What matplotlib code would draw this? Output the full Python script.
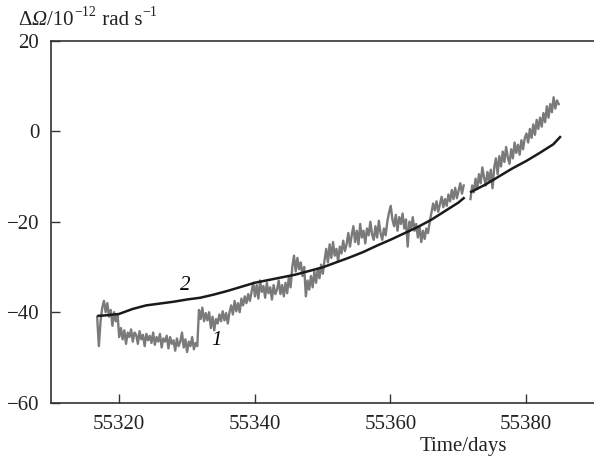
import numpy as np
import matplotlib
matplotlib.use("Agg")
import matplotlib.pyplot as plt

plt.rcParams["font.family"] = ["Liberation Serif", "DejaVu Serif"]

# curve 1 (measured, grey), sampled every 0.25 day, two pieces
t1a_start = 55316.8
y1a = [-41, -47.5, -42,
       -39, -37.5, -40, -38,
       -41, -39.5, -43, -40, -42, -40.5,
       -45.5, -43.5, -46, -44, -47, -44.5, -45.5, -43.8, -46.5, -44.5,
       -45, -47, -44.2, -46, -45, -47.5, -44.8, -46.2, -45.2, -46.8,
       -44.5, -47.2, -45.5, -46.5, -44.8, -47.8, -45.8, -46.5, -45.2, -48,
       -45.5, -47, -46.2, -48.5, -45.8, -47.5, -46.5, -44.5, -47.8, -46,
       -48.8, -46.5, -47.5, -45.5, -48.2, -46.8, -47.5,
       -39.5, -41.5, -39, -42, -40.2, -41.8, -40, -43.5, -41, -44,
       -41.5, -42.5, -40.5, -42, -39.8, -41.8, -40.2, -42.5, -40,
       -38.5, -40.5, -37.5, -39.8, -38, -40, -37, -38.5, -36.5, -38, -36, -37.5, -35.5,
       -33.5, -36.5, -34, -37, -33, -35.5, -34.2, -36.8, -33.5, -35.8, -34.5, -37.2, -34, -36,
       -35, -33, -36, -34, -36.5, -33.5, -35.8, -32, -34.5, -30,
       -27.5, -31, -28, -30.5, -29, -32, -30, -36.5,
       -33, -35, -32, -34.5, -31, -33.5, -30.5, -32.5, -29.5, -31.5,
       -28.5, -26, -29, -25, -28, -24.5, -27.5, -26, -28.8, -25.5, -27, -24.2, -26.5, -25,
       -22.5, -25.5, -23, -21, -24.5, -22, -25, -20.5, -23.5, -22, -24.8, -21.5,
       -23, -20, -22.8, -24, -21, -23.5, -19.8, -22.5, -24, -21.5, -23,
       -20, -18, -16.5, -19.5, -21, -18.5, -22, -19, -20.5, -18.2, -21.5, -19.5, -25.5, -20, -21.5, -19,
       -22, -20.5, -23.5, -21, -24.5, -22, -23.8, -21.5, -22.5, -20,
       -18, -16, -17.5, -15.5, -17.8, -16.2, -14.5, -16.8, -15, -16.5,
       -14, -15.5, -13, -15, -12.5, -14.8, -13.2, -11.5, -13.8, -12]
t1b_start = 55371.8
y1b = [-15, -12, -13.5, -10.5, -12.8, -9.5, -11.5, -8, -10.2, -12, -9, -11, -8.5, -12.6,
       -8, -6, -9.5, -5.5, -7.8, -4.5, -6.8, -3.5, -5.8, -7.2, -4, -6, -2.5, -4.8, -3, -5.2, -2, -4, -1.5,
       -0.5, -2.5, 0.5, -1.5, 1.5, -0.8, 2.5, 0.5, 3, 1, 4, 2, 5.5, 3, 6, 4.2, 7.5, 5, 6.8, 6]
step = 0.25

# curve 2 (model, black), two pieces
t2a = [55317, 55318, 55320, 55322, 55324, 55326, 55328, 55330, 55332, 55334, 55336, 55338,
       55340, 55342, 55344, 55346, 55348, 55350, 55352, 55354, 55356, 55358, 55360, 55362,
       55364, 55366, 55368, 55370, 55370.8]
y2a = [-40.8, -40.7, -40.4, -39.3, -38.5, -38.1, -37.7, -37.2, -36.8, -36.1, -35.3, -34.4,
       -33.5, -32.9, -32.3, -31.7, -30.9, -30.1, -29.0, -27.9, -26.7, -25.3, -24.0, -22.6,
       -21.2, -19.6, -17.7, -15.8, -14.8]
t2b = [55371.9, 55374, 55376, 55378, 55380, 55382, 55384, 55385]
y2b = [-13.4, -11.8, -10.0, -8.2, -6.6, -4.8, -2.9, -1.3]

xticks = [55320, 55340, 55360, 55380]
yticks = [-60, -40, -20, 0, 20]

fig = plt.figure(figsize=(5.94, 4.59), dpi=100)
ax = fig.add_axes([51 / 594, 1 - 402.7 / 459, 1 - 51 / 594, (402.7 - 40.7) / 459])

t1a = t1a_start + step * np.arange(len(y1a))
t1b = t1b_start + step * np.arange(len(y1b))
ax.plot(t1a, y1a, color="#7a7a7a", lw=1.7)
ax.plot(t1b, y1b, color="#7a7a7a", lw=1.7)
ax.plot(t2a, y2a, color="#1a1a1a", lw=1.8)
ax.plot(t2b, y2b, color="#1a1a1a", lw=1.8)

ax.text(55329.8, -34.0, "2", fontsize=15, style="italic", ha="center", va="center")
ax.text(55334.4, -46.3, "1", fontsize=15, style="italic", ha="center", va="center")

ax.set_xlim(55310, 55390)
ax.set_ylim(-60, 20)
ax.set_xticks(xticks)
ax.set_yticks(yticks)
ax.tick_params(direction="in", length=6.5, width=1, pad=8.5, labelsize=15,
               color="#333333", labelcolor="#222222")
for s in ["left", "bottom", "top"]:
    ax.spines[s].set_linewidth(1.2)
    ax.spines[s].set_color("#333333")
ax.spines["right"].set_visible(False)

# y label at top left, built piece by piece so that Omega is italic
yb = 1 - 25 / 459
pieces = [("Δ", 15, "normal", 0), ("Ω", 15, "italic", 0), ("/10", 15, "normal", 0),
          ("−12", 10, "normal", 6.5), (" rad s", 15, "normal", 0), ("−1", 10, "normal", 6.5)]
prev = fig.text(18 / 594, yb, pieces[0][0], fontsize=15, va="baseline", color="#222222")
for txt, fs, st, dy in pieces[1:]:
    prev = ax.annotate(txt, xy=(1, yb), xycoords=(prev, "figure fraction"),
                       xytext=(0.3, dy), textcoords="offset points", fontsize=fs,
                       style=st, va="baseline", ha="left", color="#222222",
                       annotation_clip=False, clip_on=False)

fig.text(507 / 594, 1 - 446 / 459, "Time/days", fontsize=15, ha="right", va="center",
         color="#222222")

fig.savefig("out.png", dpi=100)
